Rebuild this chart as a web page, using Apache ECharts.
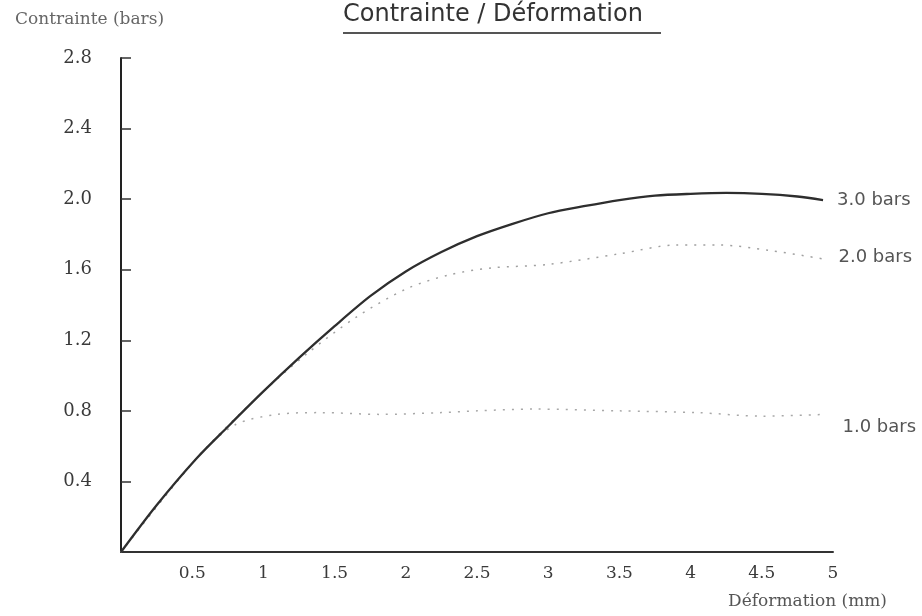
<!DOCTYPE html>
<html>
<head>
<meta charset="utf-8">
<title>Contrainte / Déformation</title>
<script src="https://cdn.jsdelivr.net/npm/echarts@6/dist/echarts.min.js"></script>
<style>
  html, body { margin: 0; padding: 0; background: #ffffff; }
  #chart { width: 922px; height: 616px; }
</style>
</head>
<body>
<div id="chart"></div>
<script>
// Déformation (mm) / contrainte (bars) pairs for each confining pressure
const defo30 = [0, 0.25, 0.53, 0.75, 1.0, 1.25, 1.5, 1.75, 2.0, 2.25, 2.5, 2.75, 3.0, 3.25, 3.5, 3.75, 4.0, 4.25, 4.5, 4.75, 4.93];
const cont30 = [0, 0.265, 0.53, 0.71, 0.91, 1.10, 1.28, 1.45, 1.59, 1.70, 1.79, 1.86, 1.92, 1.96, 1.995, 2.02, 2.03, 2.035, 2.03, 2.015, 1.995];

const defo20 = [0, 0.53, 0.96, 1.30, 1.65, 2.00, 2.30, 2.60, 3.00, 3.50, 3.90, 4.20, 4.55, 4.94];
const cont20 = [0, 0.53, 0.88, 1.12, 1.33, 1.49, 1.57, 1.61, 1.63, 1.69, 1.74, 1.74, 1.71, 1.66];

const defo10 = [0, 0.53, 0.80, 1.10, 1.40, 1.82, 2.25, 2.50, 2.90, 3.50, 4.05, 4.50, 4.94];
const cont10 = [0, 0.53, 0.72, 0.78, 0.79, 0.78, 0.79, 0.80, 0.81, 0.80, 0.79, 0.77, 0.78];

const seriesNames = ['3.0 bars', '2.0 bars', '1.0 bars'];

// Axis ticks that carry a label
const xTicks = [0.5, 1, 1.5, 2, 2.5, 3, 3.5, 4, 4.5, 5];
const yTicks = [0.4, 0.8, 1.2, 1.6, 2.0, 2.4, 2.8];

const pairs = (xs, ys) => xs.map((x, i) => [x, ys[i]]);
const hasTick = (list, v) => list.some(t => Math.abs(t - v) < 1e-6);

const chart = echarts.init(document.getElementById('chart'), null, { renderer: 'canvas' });

const serifFont = '"DejaVu Serif", "Liberation Serif", serif';
const sansFont = '"DejaVu Sans", "Liberation Sans", sans-serif';

const endLabelStyle = (text, offset) => ({
  show: true,
  formatter: text,
  distance: 14,
  offset: offset,
  color: '#555',
  fontFamily: sansFont,
  fontSize: 18
});

chart.setOption({
  backgroundColor: '#ffffff',
  animation: false,
  title: [
    {
      text: 'Contrainte / Déformation',
      left: 343,
      top: 3,
      padding: 0,
      textStyle: { fontFamily: sansFont, fontSize: 24, fontWeight: 'normal', color: '#333' }
    },
    {
      text: 'Contrainte (bars)',
      left: 15,
      top: 11,
      padding: 0,
      textStyle: { fontFamily: serifFont, fontSize: 17, fontWeight: 'normal', color: '#666' }
    }
  ],
  graphic: [
    {
      // underline of the heading
      type: 'rect',
      left: 343,
      top: 32,
      shape: { width: 318, height: 2 },
      style: { fill: '#555' }
    }
  ],
  grid: { left: 121, right: 89, top: 58, bottom: 64, containLabel: false },
  xAxis: {
    type: 'value',
    min: 0,
    max: 5,
    interval: 0.5,
    name: 'Déformation (mm)',
    nameLocation: 'end',
    nameGap: 54,
    nameTextStyle: {
      fontFamily: serifFont, fontSize: 17, color: '#555',
      align: 'right', verticalAlign: 'top', padding: [41, 0, 0, 0]
    },
    axisLine: { show: true, onZero: false, lineStyle: { color: '#333', width: 2 } },
    axisTick: { show: false },
    splitLine: { show: false },
    axisLabel: {
      margin: 13,
      fontFamily: serifFont,
      fontSize: 17,
      color: '#3a3a3a',
      formatter: v => hasTick(xTicks, v) ? String(v) : ''
    }
  },
  yAxis: {
    type: 'value',
    min: 0,
    max: 2.8,
    interval: 0.4,
    axisLine: { show: true, onZero: false, lineStyle: { color: '#222', width: 2 } },
    axisTick: { show: true, inside: true, length: 10, lineStyle: { color: '#333', width: 1.5 } },
    splitLine: { show: false },
    axisLabel: {
      margin: 29,
      fontFamily: serifFont,
      fontSize: 18,
      color: '#3a3a3a',
      formatter: v => hasTick(yTicks, v) ? v.toFixed(1) : ''
    }
  },
  series: [
    {
      name: seriesNames[2],
      type: 'line',
      data: pairs(defo10, cont10),
      smooth: 0.3,
      symbol: 'none',
      z: 2,
      lineStyle: { color: '#a8a8a8', width: 1.5, type: [2, 7] },
      endLabel: endLabelStyle(seriesNames[2], [4, 13])
    },
    {
      name: seriesNames[1],
      type: 'line',
      data: pairs(defo20, cont20),
      smooth: 0.3,
      symbol: 'none',
      z: 2,
      lineStyle: { color: '#a0a0a0', width: 1.5, type: [2, 7] },
      endLabel: endLabelStyle(seriesNames[1], [0, -2])
    },
    {
      name: seriesNames[0],
      type: 'line',
      data: pairs(defo30, cont30),
      smooth: 0.3,
      symbol: 'none',
      z: 3,
      lineStyle: { color: '#2e2e2e', width: 2.3 },
      endLabel: endLabelStyle(seriesNames[0], [0, 0])
    }
  ]
});
</script>
</body>
</html>
